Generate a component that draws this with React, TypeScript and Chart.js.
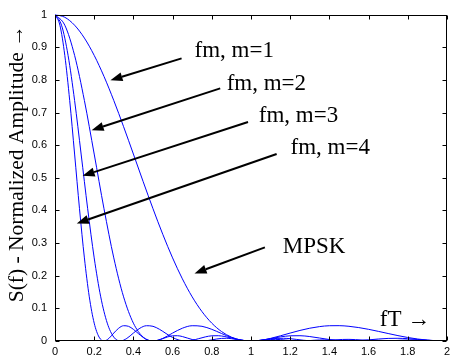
import React, { useEffect, useRef } from "react";
import { Chart, registerables } from "chart.js";

Chart.register(...registerables);

const W = 454;
const H = 358;

// fT sample grids
const fGrid05 = [0,0.05,0.1,0.15,0.2,0.25,0.3,0.35,0.4,0.45,0.5,0.55,0.6,0.65,0.7,0.75,0.8,0.85,0.9,0.95,1,1.05,1.1,1.15,1.2,1.25,1.3,1.35,1.4,1.45,1.5,1.55,1.6,1.65,1.7,1.75,1.8,1.85,1.9,1.95,2];
const fGrid3 = [0,0.0333,0.0667,0.1,0.1333,0.1667,0.2,0.2333,0.2667,0.3,0.3333,0.3667,0.4,0.4333,0.4667,0.5,0.5333,0.5667,0.6,0.6333,0.6667,0.7,0.7333,0.7667,0.8,0.8333,0.8667,0.9,0.9333,0.9667,1,1.0333,1.0667,1.1,1.1333,1.1667,1.2,1.2333,1.2667,1.3,1.3333,1.3667,1.4,1.4333,1.4667,1.5,1.5333,1.5667,1.6,1.6333,1.6667,1.7,1.7333,1.7667,1.8,1.8333,1.8667,1.9,1.9333,1.9667,2];
const fGrid025 = [0,0.025,0.05,0.075,0.1,0.125,0.15,0.175,0.2,0.225,0.25,0.275,0.3,0.325,0.35,0.375,0.4,0.425,0.45,0.475,0.5,0.525,0.55,0.575,0.6,0.625,0.65,0.675,0.7,0.725,0.75,0.775,0.8,0.825,0.85,0.875,0.9,0.925,0.95,0.975,1,1.025,1.05,1.075,1.1,1.125,1.15,1.175,1.2,1.225,1.25,1.275,1.3,1.325,1.35,1.375,1.4,1.425,1.45,1.475,1.5,1.525,1.55,1.575,1.6,1.625,1.65,1.675,1.7,1.725,1.75,1.775,1.8,1.825,1.85,1.875,1.9,1.925,1.95,1.975,2];

// Normalized amplitude S(f)
const ampM1 = [1,0.9918,0.9675,0.9281,0.8751,0.8106,0.7368,0.6566,0.5728,0.4881,0.4053,0.3268,0.2546,0.1904,0.1353,0.0901,0.0547,0.0289,0.0119,0.0027,0,0.0022,0.0080,0.0158,0.0243,0.0324,0.0392,0.0441,0.0468,0.0470,0.0450,0.0411,0.0358,0.0295,0.0229,0.0165,0.0108,0.0061,0.0027,0.0007,0];
const ampM2 = [1,0.9675,0.8751,0.7368,0.5728,0.4053,0.2546,0.1353,0.0547,0.0119,0,0.0080,0.0243,0.0392,0.0468,0.0450,0.0358,0.0229,0.0108,0.0027,0,0.0022,0.0072,0.0125,0.0159,0.0162,0.0136,0.0091,0.0045,0.0012,0,0.0010,0.0034,0.0061,0.0079,0.0083,0.0071,0.0048,0.0024,0.0006,0];
const ampM3 = [1,0.9675,0.8751,0.7368,0.5728,0.4053,0.2546,0.1353,0.0547,0.0119,0,0.0080,0.0243,0.0392,0.0468,0.0450,0.0358,0.0229,0.0108,0.0027,0,0.0022,0.0072,0.0125,0.0159,0.0162,0.0136,0.0091,0.0045,0.0012,0,0.0010,0.0034,0.0061,0.0079,0.0083,0.0071,0.0048,0.0024,0.0006,0,0.0006,0.0020,0.0036,0.0047,0.0050,0.0043,0.0030,0.0015,0.0004,0,0.0004,0.0013,0.0024,0.0031,0.0034,0.0029,0.0020,0.0010,0.0003,0];
const ampM4 = [1,0.9675,0.8751,0.7368,0.5728,0.4053,0.2546,0.1353,0.0547,0.0119,0,0.0080,0.0243,0.0392,0.0468,0.0450,0.0358,0.0229,0.0108,0.0027,0,0.0022,0.0072,0.0125,0.0159,0.0162,0.0136,0.0091,0.0045,0.0012,0,0.0010,0.0034,0.0061,0.0079,0.0083,0.0071,0.0048,0.0024,0.0006,0,0.0006,0.0020,0.0036,0.0047,0.0050,0.0043,0.0030,0.0015,0.0004,0,0.0004,0.0013,0.0024,0.0031,0.0034,0.0029,0.0020,0.0010,0.0003,0,0.0003,0.0009,0.0017,0.0022,0.0024,0.0021,0.0015,0.0008,0.0002,0,0.0002,0.0007,0.0012,0.0017,0.0018,0.0016,0.0011,0.0006,0.0002,0];

const seriesNames = ["m=1 / MPSK", "m=2", "m=3", "m=4"];
const seriesX = [fGrid05, fGrid05, fGrid3, fGrid025];
const seriesY = [ampM1, ampM2, ampM3, ampM4];

const xTicks = [0,0.2,0.4,0.6,0.8,1,1.2,1.4,1.6,1.8,2];
const yTicks = [0,0.1,0.2,0.3,0.4,0.5,0.6,0.7,0.8,0.9,1];

const yTitle = "S(f) - Normalized Amplitude \u2192";
const xTitle = "fT \u2192";

// annotation labels (data coords) and arrows (from -> tip)
const labelTexts = ["fm, m=1", "fm, m=2", "fm, m=3", "fm, m=4", "MPSK"];
const labelPos = [[0.712, 0.869], [0.876, 0.770], [1.040, 0.671], [1.202, 0.572], [1.162, 0.271]];
const arrowFrom = [[0.646, 0.866], [0.843, 0.774], [0.985, 0.671], [1.131, 0.573], [1.071, 0.287]];
const arrowTip = [[0.283, 0.799], [0.187, 0.646], [0.141, 0.506], [0.111, 0.360], [0.712, 0.207]];
const xTitlePos = [1.657, 0.046];

const serif = "'Liberation Serif', 'Times New Roman', serif";

const overlay = {
  id: "overlay",
  afterDatasetsDraw(chart: any) {
    const { ctx, chartArea: a, scales } = chart;
    const xs = scales.x;
    const ys = scales.y;
    ctx.save();
    // box
    ctx.strokeStyle = "#000";
    ctx.lineWidth = 1;
    const L = Math.round(a.left) + 0.5;
    const R = Math.round(a.right) - 0.5;
    const T = Math.round(a.top) + 0.5;
    const B = Math.round(a.bottom) - 0.5;
    ctx.strokeRect(L, T, R - L, B - T);
    // inward ticks
    const tl = 4;
    ctx.beginPath();
    xTicks.forEach((v) => {
      const px = Math.round(xs.getPixelForValue(v)) + 0.5;
      ctx.moveTo(px, B); ctx.lineTo(px, B - tl);
      ctx.moveTo(px, T); ctx.lineTo(px, T + tl);
    });
    yTicks.forEach((v) => {
      const py = Math.round(ys.getPixelForValue(v)) + 0.5;
      ctx.moveTo(L, py); ctx.lineTo(L + tl, py);
      ctx.moveTo(R, py); ctx.lineTo(R - tl, py);
    });
    ctx.stroke();

    // arrows
    ctx.fillStyle = "#000";
    arrowFrom.forEach((f, i) => {
      const x0 = xs.getPixelForValue(f[0]);
      const y0 = ys.getPixelForValue(f[1]);
      const x1 = xs.getPixelForValue(arrowTip[i][0]);
      const y1 = ys.getPixelForValue(arrowTip[i][1]);
      const ang = Math.atan2(y1 - y0, x1 - x0);
      const hl = 12, hw = 4.5;
      const bx = x1 - hl * Math.cos(ang);
      const by = y1 - hl * Math.sin(ang);
      ctx.lineWidth = 2;
      ctx.beginPath();
      ctx.moveTo(x0, y0);
      ctx.lineTo(bx, by);
      ctx.stroke();
      ctx.beginPath();
      ctx.moveTo(x1, y1);
      ctx.lineTo(bx + hw * Math.sin(ang), by - hw * Math.cos(ang));
      ctx.lineTo(bx - hw * Math.sin(ang), by + hw * Math.cos(ang));
      ctx.closePath();
      ctx.fill();
    });

    // labels
    ctx.textAlign = "left";
    ctx.textBaseline = "alphabetic";
    ctx.font = "23px " + serif;
    labelTexts.forEach((t, i) => {
      ctx.fillText(t, xs.getPixelForValue(labelPos[i][0]), ys.getPixelForValue(labelPos[i][1]));
    });
    ctx.fillText(xTitle, xs.getPixelForValue(xTitlePos[0]), ys.getPixelForValue(xTitlePos[1]));

    // y title
    ctx.save();
    ctx.translate(23, (a.top + a.bottom) / 2 - 14);
    ctx.rotate(-Math.PI / 2);
    ctx.textAlign = "center";
    ctx.font = "21.5px " + serif;
    ctx.fillText(yTitle, 0, 0);
    ctx.restore();

    ctx.restore();
  },
};

export default function App() {
  const ref = useRef<HTMLCanvasElement | null>(null);
  useEffect(() => {
    if (!ref.current) return;
    const tickFont = { family: "'Liberation Sans', Arial, sans-serif", size: 11 };
    const chart = new Chart(ref.current, {
      type: "line",
      data: {
        datasets: seriesNames.map((name, k) => ({
          label: name,
          data: seriesX[k].map((x, i) => ({ x, y: seriesY[k][i] })),
          borderColor: "#0000ff",
          borderWidth: 1,
          pointRadius: 0,
          fill: false,
          cubicInterpolationMode: "monotone" as const,
        })),
      },
      options: {
        responsive: false,
        animation: false,
        devicePixelRatio: 1,
        layout: { padding: { top: 13, left: 0, right: 0, bottom: 0 } },
        plugins: { legend: { display: false }, tooltip: { enabled: false } },
        scales: {
          x: {
            type: "linear",
            min: 0,
            max: 2,
            grid: { display: false, drawTicks: false, tickLength: 0 },
            border: { display: false },
            afterBuildTicks: (s: any) => { s.ticks = xTicks.map((v) => ({ value: v })); },
            afterFit: (s: any) => { s.height = 17; },
            ticks: { padding: 4, color: "#000", font: tickFont, maxRotation: 0, autoSkip: false, callback: (v: any) => String(v) },
          },
          y: {
            type: "linear",
            min: 0,
            max: 1,
            grid: { display: false, drawTicks: false, tickLength: 0 },
            border: { display: false },
            afterBuildTicks: (s: any) => { s.ticks = yTicks.map((v) => ({ value: v })); },
            afterFit: (s: any) => { s.width = 55; },
            ticks: { padding: 8, color: "#000", font: tickFont, autoSkip: false, callback: (v: any) => String(v) },
          },
        },
      },
      plugins: [overlay],
    });
    return () => chart.destroy();
  }, []);
  return (
    <div style={{ position: "absolute", left: 0, top: 0, width: W, height: H, background: "#fff" }}>
      <canvas ref={ref} width={W} height={H} style={{ display: "block" }} />
    </div>
  );
}
